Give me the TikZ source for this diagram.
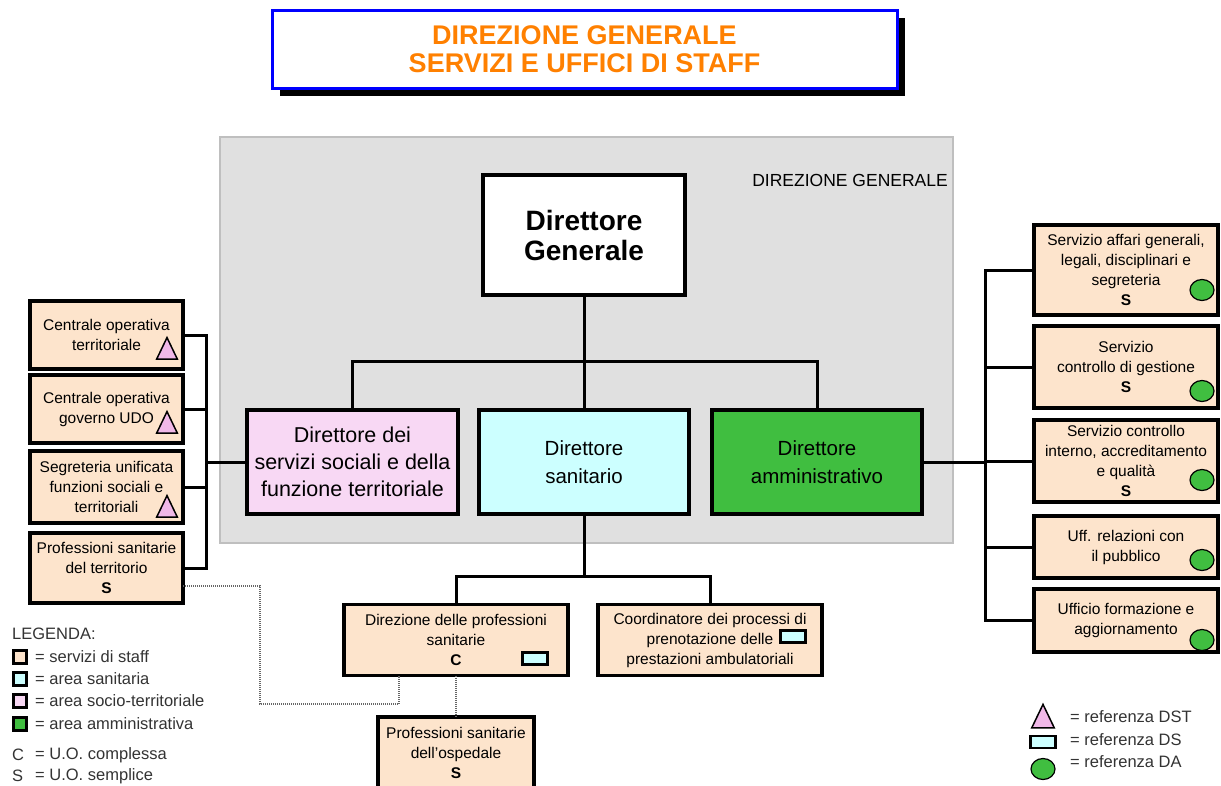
\documentclass[tikz,border=0pt]{standalone}
\usepackage{fontspec}
\setmainfont{Liberation Sans}
\usepackage{graphicx}
\usetikzlibrary{positioning,shapes.geometric}
\definecolor{staffc}{RGB}{253,228,204}
\definecolor{socterr}{RGB}{248,216,244}
\definecolor{sanit}{RGB}{204,255,255}
\definecolor{ammin}{RGB}{64,190,64}
\definecolor{dgarea}{RGB}{224,224,224}
\definecolor{titleor}{RGB}{255,128,0}
\definecolor{tripink}{RGB}{240,184,232}
\tikzset{box/.style={draw, line width=3.2pt, align=center, inner sep=2pt, outer sep=0pt}}
\tikzset{dirbox/.style={box, minimum width=210pt, minimum height=104pt, font=\fontsize{20.5}{28}\selectfont}}
\tikzset{lstaff/.style={box, fill=staffc, minimum width=153pt, font=\fontsize{15.5}{20}\selectfont}}
\tikzset{rstaff/.style={box, fill=staffc, minimum width=184pt, font=\fontsize{15.5}{20}\selectfont}}
\tikzset{lstaffw/.style={box, fill=staffc, minimum width=224pt, minimum height=71pt, font=\fontsize{15.5}{20}\selectfont}}
\tikzset{conn/.style={draw, line width=3pt}}
\tikzset{dotconn/.style={draw=black!60, line width=1.5pt, dash pattern=on 1pt off 1pt}}
\tikzset{refdst/.style={draw, line width=1.5pt, fill=tripink, regular polygon, regular polygon sides=3, minimum size=24pt, yscale=1.2, inner sep=0pt}}
\tikzset{refds/.style={draw, line width=2.8pt, fill=sanit, minimum width=25pt, minimum height=12pt, inner sep=0pt}}
\tikzset{refda/.style={draw, line width=1.2pt, fill=ammin, ellipse, minimum width=24pt, minimum height=21pt, inner sep=0pt}}
\tikzset{legsq/.style={draw, line width=2.4pt, minimum size=13pt, inner sep=0pt}}
\tikzset{legtxt/.style={anchor=west, inner sep=0pt, text=black!80, font=\fontsize{16.5}{18}\selectfont}}
\newcommand{\sbold}{\textbf{S}}
\begin{document}
\begin{tikzpicture}[x=1pt, y=-1pt]
\useasboundingbox (0,0) rectangle (1221,785);
% titolo
\fill (280,18) rectangle (905,96);
\node[draw=blue, line width=3pt, fill=white, minimum width=625pt, minimum height=78pt, align=center,
  text=titleor, font=\fontsize{27}{28.5}\selectfont\bfseries] (title) at (584.5,49)
  {DIREZIONE GENERALE\\SERVIZI E UFFICI DI STAFF};
% area direzione generale
\draw[fill=dgarea, draw=black!25, line width=2.5pt] (220,137) rectangle (953,543);
\node[anchor=base east, inner sep=0pt, font=\fontsize{17.5}{19}\selectfont] (dglab) at (948,186)
  {DIREZIONE GENERALE};
%
\node[box, fill=white, minimum width=202pt, minimum height=120pt,
  font=\fontsize{28}{30}\selectfont\bfseries] (dg) at (584,235) {Direttore\\Generale};
\node[dirbox, fill=sanit, below=115pt of dg] (ds) {Direttore\\sanitario};
\node[dirbox, fill=socterr, left=21pt of ds, minimum width=211pt, font=\fontsize{21.5}{28}\selectfont] (dss)
  {Direttore dei\\[-1pt]servizi sociali e della\\[-1pt]funzione territoriale};
\node[dirbox, fill=ammin, right=23pt of ds] (dam) {Direttore\\amministrativo};
\draw[conn] (dg.south) -- ++(0,66) coordinate (bus);
\draw[conn] (dss.north) |- (bus) -| (dam.north);
\draw[conn] (bus) -- (ds.north);
%
% staff sinistra
\node[lstaff, minimum height=68pt] (lb1) at (106.5,335) {Centrale operativa\\territoriale};
\node[lstaff, minimum height=68pt, below=6pt of lb1] (lb2) {Centrale operativa\\governo UDO\hspace{8pt}};
\node[lstaff, minimum height=72pt, below=8pt of lb2] (lb3) {Segreteria unificata\\funzioni sociali e\\territoriali};
\node[lstaff, minimum height=70pt, below=10pt of lb3] (lb4) {Professioni sanitarie\\del territorio\\\sbold};
\node[refdst] (t1) at ([xshift=-16pt,yshift=17pt]lb1.south east) {};
\node[refdst] (t2) at ([xshift=-16pt,yshift=17pt]lb2.south east) {};
\node[refdst] (t3) at ([xshift=-16pt,yshift=13pt]lb3.south east) {};
\coordinate (lbus) at (206,462);
\draw[conn] (dss.west) -- (lbus);
\foreach \b in {lb1,lb2,lb3,lb4}
  \draw[conn] (\b.east) -| (lbus);
%
% staff destra
\node[rstaff, minimum height=90pt] (rb1) at (1126,270) {Servizio affari generali,\\legali, disciplinari e\\segreteria\\\sbold};
\node[rstaff, minimum height=82pt, below=11pt of rb1] (rb2) {Servizio\\controllo di gestione\\\sbold};
\node[rstaff, minimum height=82pt, below=12pt of rb2] (rb3) {Servizio controllo\\interno, accreditamento\\e qualità\\\sbold};
\node[rstaff, minimum height=62pt, below=14pt of rb3] (rb4) {Uff. relazioni con\\il pubblico};
\node[rstaff, minimum height=63pt, below=11pt of rb4] (rb5) {Ufficio formazione e\\aggiornamento};
\node[refda] (c1) at ([xshift=-16pt,yshift=25pt]rb1.south east) {};
\node[refda] (c2) at ([xshift=-16pt,yshift=17pt]rb2.south east) {};
\node[refda] (c3) at ([xshift=-16pt,yshift=22pt]rb3.south east) {};
\node[refda] (c4) at ([xshift=-16pt,yshift=18pt]rb4.south east) {};
\node[refda] (c5) at ([xshift=-16pt,yshift=12pt]rb5.south east) {};
\coordinate (rbus) at (985,462);
\draw[conn] (dam.east) -- (rbus);
\foreach \b in {rb1,rb2,rb3,rb4,rb5}
  \draw[conn] (\b.west) -| (rbus);
%
% area sanitaria
\node[lstaffw] (dps) at (456,640) {Direzione delle professioni\\sanitarie\\\textbf{C}};
\node[lstaffw] (cpp) at (710,640) {Coordinatore dei processi di\\prenotazione delle\hspace{30pt}\\prestazioni ambulatoriali};
\node[refds] (r1) at ([xshift=-33pt,yshift=17pt]dps.south east) {};
\node[refds] (r2) at ([xshift=-29pt,yshift=39pt]cpp.south east) {};
\draw[conn] (ds.south) -- ++(0,62) coordinate (bus2);
\draw[conn] (dps.north) |- (bus2) -| (cpp.north);
\node[lstaff, minimum width=156pt, minimum height=72pt] (pso) at (456,753) {Professioni sanitarie\\dell'ospedale\\\sbold};
\draw[dotconn] ([yshift=-18pt]lb4.east) -| ++(77,118) -| ([xshift=-57pt]dps.south);
\draw[dotconn] (dps.south) -- (pso.north);
%
% legenda
\node[legtxt] (leg) at (12,634) {LEGENDA:};
\node[legsq, fill=staffc] (q1) at (20,657) {};
\node[legsq, fill=sanit] (q2) at (20,679) {};
\node[legsq, fill=socterr] (q3) at (20,701) {};
\node[legsq, fill=ammin] (q4) at (20,724) {};
\node[legtxt] (lq1) at (35,657) {= servizi di staff};
\node[legtxt] (lq2) at (35,679) {= area sanitaria};
\node[legtxt] (lq3) at (35,701) {= area socio-territoriale};
\node[legtxt] (lq4) at (35,724) {= area amministrativa};
\node[legtxt] (lc) at (12,755) {C};
\node[legtxt] (lcx) at (35,755) {= U.O. complessa};
\node[legtxt] (ls) at (12,776) {S};
\node[legtxt] (lsx) at (35,776) {= U.O. semplice};
%
\node[refdst, minimum size=26pt] (kt) at (1043,720) {};
\node[refds] (kr) at (1043,742) {};
\node[refda] (kc) at (1043,769) {};
\node[legtxt] (ktx) at (1070,717) {= referenza DST};
\node[legtxt] (krx) at (1070,740) {= referenza DS};
\node[legtxt] (kcx) at (1070,762) {= referenza DA};
\end{tikzpicture}
\end{document}
